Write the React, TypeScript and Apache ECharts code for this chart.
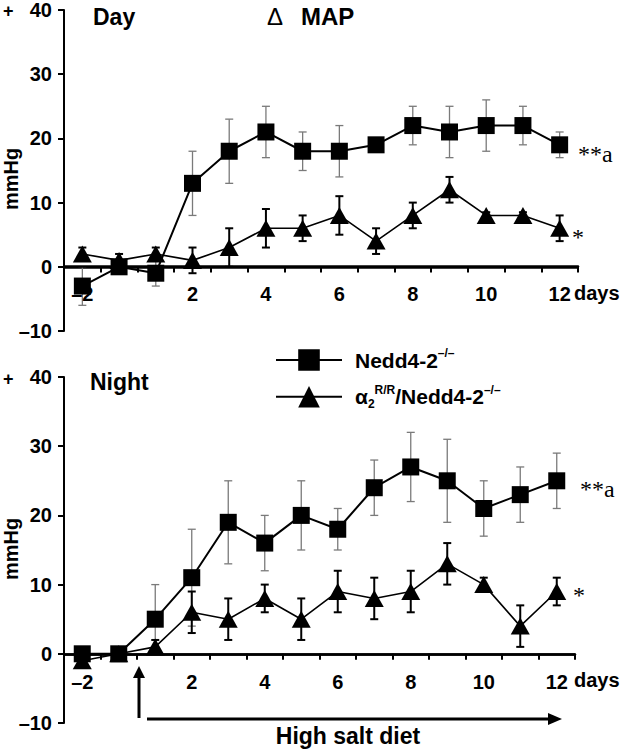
import React, { useEffect, useRef } from 'react';
import * as echarts from 'echarts';

const categories = ['-2', '0', '1', '2', '3', '4', '5', '6', '7', '8', '9', '10', '11', '12'];
const shownLabels = ['-2', '2', '4', '6', '8', '10', '12'];

const daySquareMean = [-3, 0, -1, 13, 18, 21, 18, 18, 19, 22, 21, 22, 22, 19];
const daySquareErr = [3, 1, 2, 5, 5, 4, 3, 4, 1, 3, 4, 4, 3, 2];
const dayTriMean = [2, 1, 2, 1, 3, 6, 6, 8, 4, 8, 12, 8, 8, 6];
const dayTriErr = [1, 1, 1, 2, 3, 3, 2, 3, 2, 2, 2, 0.5, 0.5, 2];

const nightSquareMean = [0, 0, 5, 11, 19, 16, 20, 18, 24, 27, 25, 21, 23, 25];
const nightSquareErr = [0.5, 0.5, 5, 7, 6, 4, 5, 3, 4, 5, 6, 4, 4, 4];
const nightTriMean = [-1, 0, 1, 6, 5, 8, 5, 9, 8, 9, 13, 10, 4, 9];
const nightTriErr = [0.5, 0.5, 1, 3, 3, 2, 3, 3, 3, 3, 3, 1, 3, 2];

const Y_MIN = -10;
const Y_MAX = 40;

const SQ = 'Nedd4-2-/-';
const TRI = 'α2R/R/Nedd4-2-/-';

const SANS = 'Liberation Sans';
const SERIF = 'Liberation Serif';

const GRIDS = [
  { left: 64, top: 8, width: 514, height: 323 },
  { left: 64, top: 377, width: 511, height: 346 },
];

function errData(mean: number[], err: number[]) {
  return mean.map((m, i) => [i, m - err[i], m + err[i]]);
}

function errRender(color: string, width: number, cap: number) {
  return (params: any, api: any) => {
    const x = api.value(0);
    const lo = api.coord([x, api.value(1)]);
    const hi = api.coord([x, api.value(2)]);
    const style = { stroke: color, lineWidth: width };
    return {
      type: 'group',
      children: [
        { type: 'line', shape: { x1: lo[0], y1: lo[1], x2: hi[0], y2: hi[1] }, style },
        { type: 'line', shape: { x1: hi[0] - cap, y1: hi[1], x2: hi[0] + cap, y2: hi[1] }, style },
        { type: 'line', shape: { x1: lo[0] - cap, y1: lo[1], x2: lo[0] + cap, y2: lo[1] }, style },
      ],
    };
  };
}

function makeXAxis(gridIndex: number) {
  // put the category axis at value 0 of the y axis
  const offset = -((0 - Y_MIN) / (Y_MAX - Y_MIN)) * GRIDS[gridIndex].height;
  return {
    type: 'category',
    gridIndex,
    position: 'bottom',
    offset,
    data: categories,
    boundaryGap: true,
    z: 5,
    axisLine: { show: true, onZero: false, lineStyle: { color: '#000', width: 2.5 } },
    axisTick: { show: true, interval: 0, inside: false, length: 6, lineStyle: { color: '#000', width: 2 } },
    axisLabel: {
      interval: 0,
      margin: 18,
      color: '#000',
      fontFamily: SANS,
      fontWeight: 'bold',
      fontSize: 20,
      formatter: (v: string) => (shownLabels.includes(v) ? v.replace('-', '–') : ''),
    },
    splitLine: { show: false },
  };
}

function makeYAxis(gridIndex: number) {
  return {
    type: 'value',
    gridIndex,
    min: Y_MIN,
    max: Y_MAX,
    interval: 10,
    axisLine: { show: true, onZero: false, lineStyle: { color: '#000', width: 2 } },
    axisTick: { show: true, inside: false, length: 6, lineStyle: { color: '#000', width: 2 } },
    axisLabel: {
      margin: 12,
      color: '#000',
      fontFamily: SANS,
      fontWeight: 'bold',
      fontSize: 20,
      formatter: (v: number) => String(v).replace('-', '–'),
    },
    splitLine: { show: false },
  };
}

function panelSeries(idx: number, sqMean: number[], sqErr: number[], triMean: number[], triErr: number[]) {
  return [
    {
      type: 'custom',
      name: 'errSq' + idx,
      xAxisIndex: idx,
      yAxisIndex: idx,
      data: errData(sqMean, sqErr),
      renderItem: errRender('#7a7a7a', 1.3, 4),
      z: 2,
      silent: true,
    },
    {
      type: 'custom',
      name: 'errTri' + idx,
      xAxisIndex: idx,
      yAxisIndex: idx,
      data: errData(triMean, triErr),
      renderItem: errRender('#000', 2, 4),
      z: 2,
      silent: true,
    },
    {
      type: 'line',
      name: TRI,
      xAxisIndex: idx,
      yAxisIndex: idx,
      data: triMean,
      symbol: 'triangle',
      symbolSize: [19, 17],
      lineStyle: { color: '#000', width: 1.6 },
      itemStyle: { color: '#000' },
      z: 3,
    },
    {
      type: 'line',
      name: SQ,
      xAxisIndex: idx,
      yAxisIndex: idx,
      data: sqMean,
      symbol: 'rect',
      symbolSize: 17,
      lineStyle: { color: '#000', width: 2 },
      itemStyle: { color: '#000' },
      markLine: {
        silent: true,
        symbol: 'none',
        label: { show: false },
        lineStyle: { color: '#000', width: 2.5, type: 'solid' },
        data: [{ yAxis: 0 }],
        z: 1,
      },
      z: 4,
    },
  ];
}

function txt(text: string, x: number, y: number, size: number, extra: any = {}) {
  return {
    type: 'text',
    x,
    y,
    style: {
      text,
      fill: '#000',
      fontFamily: SANS,
      fontWeight: 'bold',
      fontSize: size,
      textVerticalAlign: 'middle',
      ...extra,
    },
    z: 10,
  };
}

export default function App() {
  const ref = useRef<HTMLDivElement>(null);

  useEffect(() => {
    document.body.style.margin = '0';
    if (!ref.current) return;
    const chart = echarts.init(ref.current, undefined, { renderer: 'svg' });

    const option: any = {
      animation: false,
      backgroundColor: '#fff',
      grid: GRIDS,
      xAxis: [makeXAxis(0), makeXAxis(1)],
      yAxis: [makeYAxis(0), makeYAxis(1)],
      legend: {
        left: 270,
        top: 342,
        orient: 'vertical',
        itemWidth: 66,
        itemHeight: 27,
        itemGap: 13,
        selectedMode: false,
        data: [SQ, TRI],
        formatter: (name: string) =>
          name === SQ
            ? '{b|Nedd4-2}{sup|–/–}'
            : '{b|α}{sub|2}{sup|R/R}{b|/Nedd4-2}{sup|–/–}',
        textStyle: {
          padding: [0, 0, 0, 8],
          rich: {
            b: { fontFamily: SANS, fontWeight: 'bold', fontSize: 21, color: '#000', lineHeight: 26 },
            sup: { fontFamily: SANS, fontWeight: 'bold', fontSize: 12, color: '#000', lineHeight: 13, verticalAlign: 'top' },
            sub: { fontFamily: SANS, fontWeight: 'bold', fontSize: 12, color: '#000', lineHeight: 13, verticalAlign: 'bottom' },
          },
        },
      },
      series: [
        ...panelSeries(0, daySquareMean, daySquareErr, dayTriMean, dayTriErr),
        ...panelSeries(1, nightSquareMean, nightSquareErr, nightTriMean, nightTriErr),
      ],
      graphic: [
        txt('+', 3, 11, 18),
        txt('+', 3, 379, 18),
        txt('Day', 93, 17, 23),
        txt('Δ', 267, 16, 24, { fontWeight: 'normal' }),
        txt('MAP', 301, 16, 24),
        txt('Night', 90, 382, 23),
        {
          type: 'text', x: 11, y: 179, rotation: Math.PI / 2,
          style: { text: 'mmHg', fill: '#000', fontFamily: SANS, fontWeight: 'bold', fontSize: 20, textAlign: 'center', textVerticalAlign: 'middle' },
        },
        {
          type: 'text', x: 11, y: 549, rotation: Math.PI / 2,
          style: { text: 'mmHg', fill: '#000', fontFamily: SANS, fontWeight: 'bold', fontSize: 20, textAlign: 'center', textVerticalAlign: 'middle' },
        },
        txt('days', 574, 293, 20),
        txt('days', 574, 680, 20),
        txt('**a', 578, 154, 24, { fontFamily: SERIF, fontWeight: 'normal' }),
        txt('*', 572, 237, 24, { fontFamily: SERIF, fontWeight: 'normal' }),
        txt('**a', 580, 489, 24, { fontFamily: SERIF, fontWeight: 'normal' }),
        txt('*', 573, 595, 24, { fontFamily: SERIF, fontWeight: 'normal' }),
        { type: 'line', shape: { x1: 139, y1: 718, x2: 139, y2: 676 }, style: { stroke: '#000', lineWidth: 3 } },
        { type: 'polygon', shape: { points: [[133, 678], [145, 678], [139, 666]] }, style: { fill: '#000' } },
        { type: 'line', shape: { x1: 147, y1: 719, x2: 550, y2: 719 }, style: { stroke: '#000', lineWidth: 3 } },
        { type: 'polygon', shape: { points: [[548, 713], [548, 725], [562, 719]] }, style: { fill: '#000' } },
        txt('High salt diet', 348, 736, 23, { textAlign: 'center' }),
      ],
    };

    chart.setOption(option);
    return () => chart.dispose();
  }, []);

  return <div ref={ref} style={{ width: 622, height: 750 }} />;
}
